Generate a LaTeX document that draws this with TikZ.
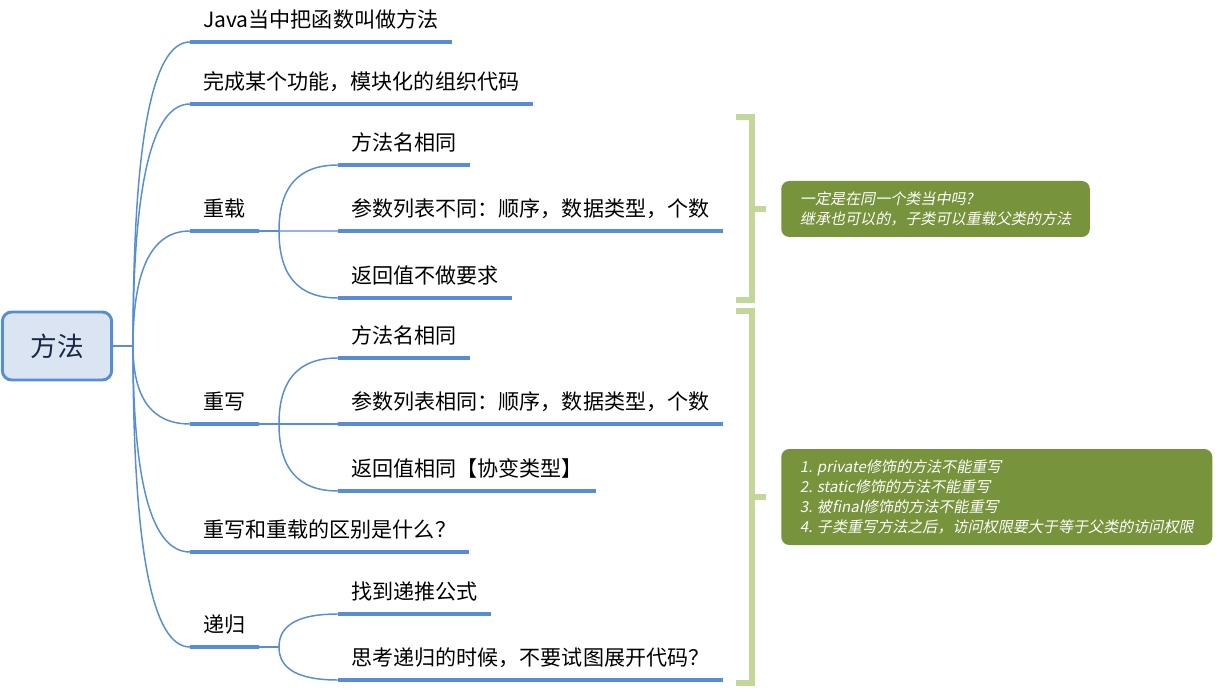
\documentclass[tikz,border=0pt]{standalone}
\usepackage{fontspec}
\setmainfont{Noto Sans CJK SC}
\newfontfamily\notefont[FakeSlant=0.2]{Noto Sans CJK SC}
\usetikzlibrary{calc, positioning}
\definecolor{mapblue}{RGB}{86,141,212}
\definecolor{rootfill}{RGB}{219,228,242}
\definecolor{rootink}{RGB}{25,40,70}
\definecolor{notegreen}{RGB}{119,147,60}
\definecolor{bracegreen}{RGB}{196,215,155}

\begin{document}
\begin{tikzpicture}[
  x=0.75pt, y=-0.75pt,
  root/.style={draw=mapblue, line width=2.2pt, rounded corners=7pt, fill=rootfill,
               minimum width=82pt, minimum height=51pt, text=rootink,
               font=\fontsize{20}{24}\selectfont},
  topic/.style={anchor=south west, inner xsep=9.75pt, inner ysep=11pt,
                text height=12pt, text depth=0pt, font=\fontsize{15.8}{18}\selectfont},
  uline/.style={mapblue, line width=3pt},
  branch/.style={mapblue, line width=1.1pt},
  twig/.style={to path={.. controls ($(\tikztostart)!0.67!(\tikztostart |- \tikztotarget)$)
                        and ($(\tikztotarget)!0.67!(\tikztostart |- \tikztotarget)$) .. (\tikztotarget)}},
  brace/.style={bracegreen, line width=4.5pt},
  note/.style={anchor=west, fill=notegreen, rounded corners=6pt, text=white, align=left,
               inner xsep=14pt, font=\notefont\fontsize{11.3}{15}\selectfont}
]
\useasboundingbox (0,0) rectangle (1224,698);

\node[root] (root) at (57,346) {方法};
\coordinate (rb) at (133,346);

% first level
\node[topic] (java) at (190,42) {Java当中把函数叫做方法};
\node[topic] (module) at (190,104) {完成某个功能，模块化的组织代码};
\node[topic] (overload) at (190,231) {重载};
\node[topic] (override) at (190,424) {重写};
\node[topic] (diff) at (190,552) {重写和重载的区别是什么？};
\node[topic] (recur) at (190,647) {递归};

% second level
\node[topic] (ol1) at (338,165) {方法名相同};
\node[topic] (ol2) at (338,231) {参数列表不同：顺序，数据类型，个数};
\node[topic] (ol3) at (338,298) {返回值不做要求};
\node[topic] (ov1) at (338,358) {方法名相同};
\node[topic] (ov2) at (338,424) {参数列表相同：顺序，数据类型，个数};
\node[topic] (ov3) at (338,491) {返回值相同【协变类型】};
\node[topic] (rc1) at (338,614) {找到递推公式};
\node[topic] (rc2) at (338,680) {思考递归的时候，不要试图展开代码？};

\coordinate (olb) at (279,231);
\coordinate (ovb) at (279,424);
\coordinate (rcb) at (279,647);

\foreach \n in {java,module,overload,override,diff,recur,ol1,ol2,ol3,ov1,ov2,ov3,rc1,rc2}
  \draw[uline] (\n.south west) -- (\n.south east);

\draw[branch] (root.east) -- (rb);
\foreach \n in {java,module,overload,override,diff,recur}
  \draw[branch] (rb) to[twig] (\n.south west);

\draw[branch] (overload.south east) -- (olb);
\foreach \n in {ol1,ol2,ol3}
  \draw[branch] (olb) to[twig] (\n.south west);
\draw[branch] (override.south east) -- (ovb);
\foreach \n in {ov1,ov2,ov3}
  \draw[branch] (ovb) to[twig] (\n.south west);
\draw[branch] (recur.south east) -- (rcb);
\foreach \n in {rc1,rc2}
  \draw[branch] (rcb) to[twig] (\n.south west);

% summaries
\draw[brace] (736,117) -- (752,117) -- (752,300) -- (736,300);
\draw[brace] (752,209) -- (766,209);
\draw[brace] (736,311) -- (752,311) -- (752,683) -- (736,683);
\draw[brace] (752,497) -- (766,497);

\node[note, minimum height=42pt] (note1) at (781,209)
  {一定是在同一个类当中吗?\\继承也可以的，子类可以重载父类的方法};
\node[note, minimum height=72pt] (note2) at (781,497)
  {1. private修饰的方法不能重写\\2. static修饰的方法不能重写\\3. 被final修饰的方法不能重写\\4. 子类重写方法之后，访问权限要大于等于父类的访问权限};
\end{tikzpicture}
\end{document}
